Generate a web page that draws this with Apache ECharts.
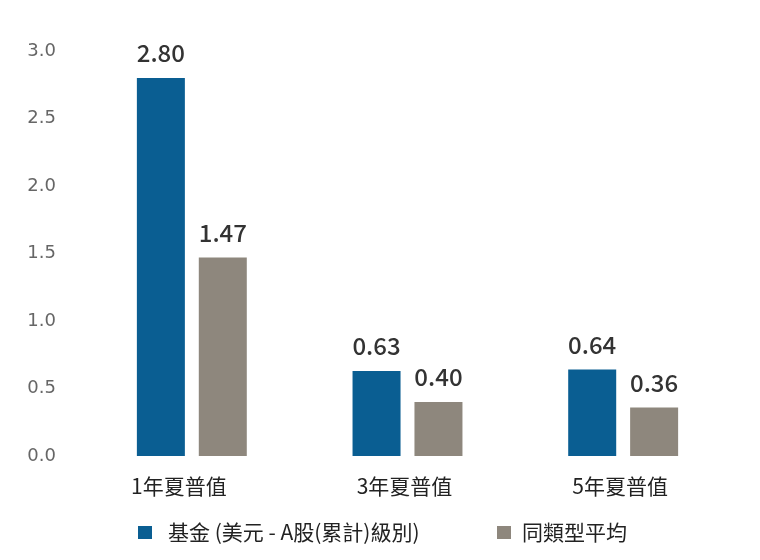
<!DOCTYPE html>
<html>
<head>
<meta charset="utf-8">
<script src="https://cdn.jsdelivr.net/npm/echarts@6/dist/echarts.min.js"></script>
<style>
html,body{margin:0;padding:0;background:#fff;}
#c{width:760px;height:560px;}
</style>
</head>
<body>
<div id="c"></div>
<script>
const categories = ['1年夏普值', '3年夏普值', '5年夏普值'];
const fundName = '基金 (美元 - A股(累計)級別)';
const peerName = '同類型平均';
const fundValues = [2.80, 0.63, 0.64];
const peerValues = [1.47, 0.40, 0.36];
const yTicks = { min: 0, max: 3, interval: 0.5 };

const cjk = '"Noto Sans CJK TC", "Noto Sans", sans-serif';
const chart = echarts.init(document.getElementById('c'), null, { renderer: 'canvas' });
const labelStyle = {
  show: true, position: 'top', distance: 13,
  fontFamily: cjk, fontSize: 24, fontWeight: 500, color: '#333',
  formatter: p => p.value.toFixed(2)
};
const xData = categories.map((c, i) => i === 0
  ? { value: c, textStyle: { padding: [0, 26, 0, 0] } }
  : { value: c });
chart.setOption({
  animation: false,
  backgroundColor: '#fff',
  grid: { left: 84, right: 29, top: 51, bottom: 104, containLabel: false },
  legend: [
    {
      left: 133, top: 517,
      icon: 'rect', itemWidth: 14, itemHeight: 13,
      textStyle: { fontFamily: cjk, fontSize: 21, color: '#222', padding: [0, 0, 0, 11] },
      data: [fundName]
    },
    {
      left: 492, top: 517,
      icon: 'rect', itemWidth: 14, itemHeight: 13,
      textStyle: { fontFamily: cjk, fontSize: 21, color: '#222', padding: [0, 0, 0, 6] },
      data: [peerName]
    }
  ],
  xAxis: {
    type: 'category', data: xData,
    axisLine: { show: false }, axisTick: { show: false },
    axisLabel: { margin: 20, fontFamily: cjk, fontSize: 21, color: '#222', padding: [0, 6, 0, 0] }
  },
  yAxis: {
    type: 'value', min: yTicks.min, max: yTicks.max, interval: yTicks.interval,
    splitLine: { show: false }, axisLine: { show: false }, axisTick: { show: false },
    axisLabel: { margin: 28, fontFamily: '"DejaVu Sans", sans-serif', fontSize: 18, color: '#666',
      formatter: v => v.toFixed(1) }
  },
  series: [
    { name: fundName, type: 'bar', data: fundValues, barWidth: 48, barGap: '29%',
      itemStyle: { color: '#0a5e92' }, label: labelStyle },
    { name: peerName, type: 'bar', data: peerValues, barWidth: 48,
      itemStyle: { color: '#8e877d' }, label: labelStyle }
  ]
});
</script>
</body>
</html>
